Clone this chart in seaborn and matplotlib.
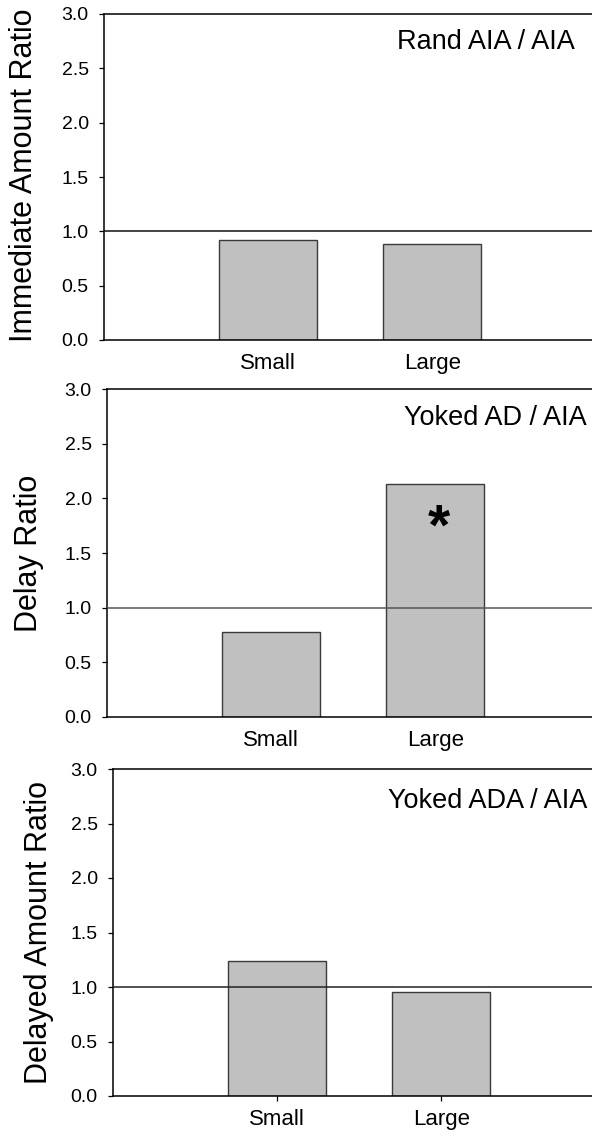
import matplotlib
matplotlib.use("Agg")
import matplotlib.pyplot as plt
import seaborn as sns
import pandas as pd

categories = ["Small", "Large"]
immediate_ratio = [0.92, 0.88]
delay_ratio = [0.78, 2.13]
delayed_amount_ratio = [1.24, 0.95]
panel_titles = ["Rand AIA / AIA", "Yoked AD / AIA", "Yoked ADA / AIA"]
y_labels = ["Immediate Amount Ratio", "Delay Ratio", "Delayed Amount Ratio"]
y_ticks = [0.0, 0.5, 1.0, 1.5, 2.0, 2.5, 3.0]
reference_line = 1.0
star_label = "*"
star_value = 1.58

sns.set_theme(style="white")
plt.rcParams['font.family'] = ['Liberation Sans', 'DejaVu Sans']

W, H = 592, 1141
fig = plt.figure(figsize=(W / 100, H / 100), dpi=100)

# layout (pixels): left, top, bottom
layouts = [(104.2, 14.0, 340.0), (107.2, 389.3, 716.7), (113.2, 769.0, 1096.0)]
axes_width_px = 492.0
label_x = [-0.162, -0.159, -0.150]
label_y = [0.505, 0.5, 0.5]
title_pos = [(0.957, 0.892), (0.975, 0.891), (0.963, 0.882)]
hline_colors = ["#111111", "#555555", "#222222"]
xtick_len = [0, 0, 3.6]

series = [immediate_ratio, delay_ratio, delayed_amount_ratio]

for i, vals in enumerate(series):
    left, top, bottom = layouts[i]
    ax = fig.add_axes([left / W, 1 - bottom / H, axes_width_px / W, (bottom - top) / H])
    df = pd.DataFrame({"cond": categories, "ratio": vals})
    sns.barplot(data=df, x="cond", y="ratio", order=categories, ax=ax,
                color="#c0c0c0", saturation=1, width=0.6,
                edgecolor="#3a3a3a", linewidth=1.0, zorder=2)
    ax.axhline(reference_line, color=hline_colors[i], lw=1.1, zorder=3)
    ax.set_xlim(-1, 2)
    ax.set_ylim(0, 3)
    ax.set_yticks(y_ticks)
    ax.set_yticklabels([f"{t:.1f}" for t in y_ticks])
    ax.set_xlabel("")
    ax.set_ylabel(y_labels[i], fontsize=22, va="center", color="black")
    ax.yaxis.set_label_coords(label_x[i], label_y[i])
    for s in ["left", "bottom", "top"]:
        ax.spines[s].set_visible(True)
        ax.spines[s].set_color("black")
        ax.spines[s].set_linewidth(1.1)
    ax.spines["right"].set_visible(False)
    ax.tick_params(axis="y", which="both", left=True, length=3.6, width=0.9,
                   pad=7.5, labelsize=14, colors="black", direction="out")
    ax.tick_params(axis="x", which="both", bottom=True, length=xtick_len[i], width=0.9,
                   pad=9.5 if xtick_len[i] == 0 else 5.5, labelsize=16,
                   colors="black", direction="out")
    ax.text(title_pos[i][0], title_pos[i][1], panel_titles[i], transform=ax.transAxes,
            ha="right", va="baseline", fontsize=19.5, color="black")
    if i == 1:
        ax.text(1.02, star_value, star_label, ha="center", va="baseline",
                fontsize=41, fontweight="bold", color="black", zorder=4)

fig.savefig("out.png", dpi=100, facecolor="white")
